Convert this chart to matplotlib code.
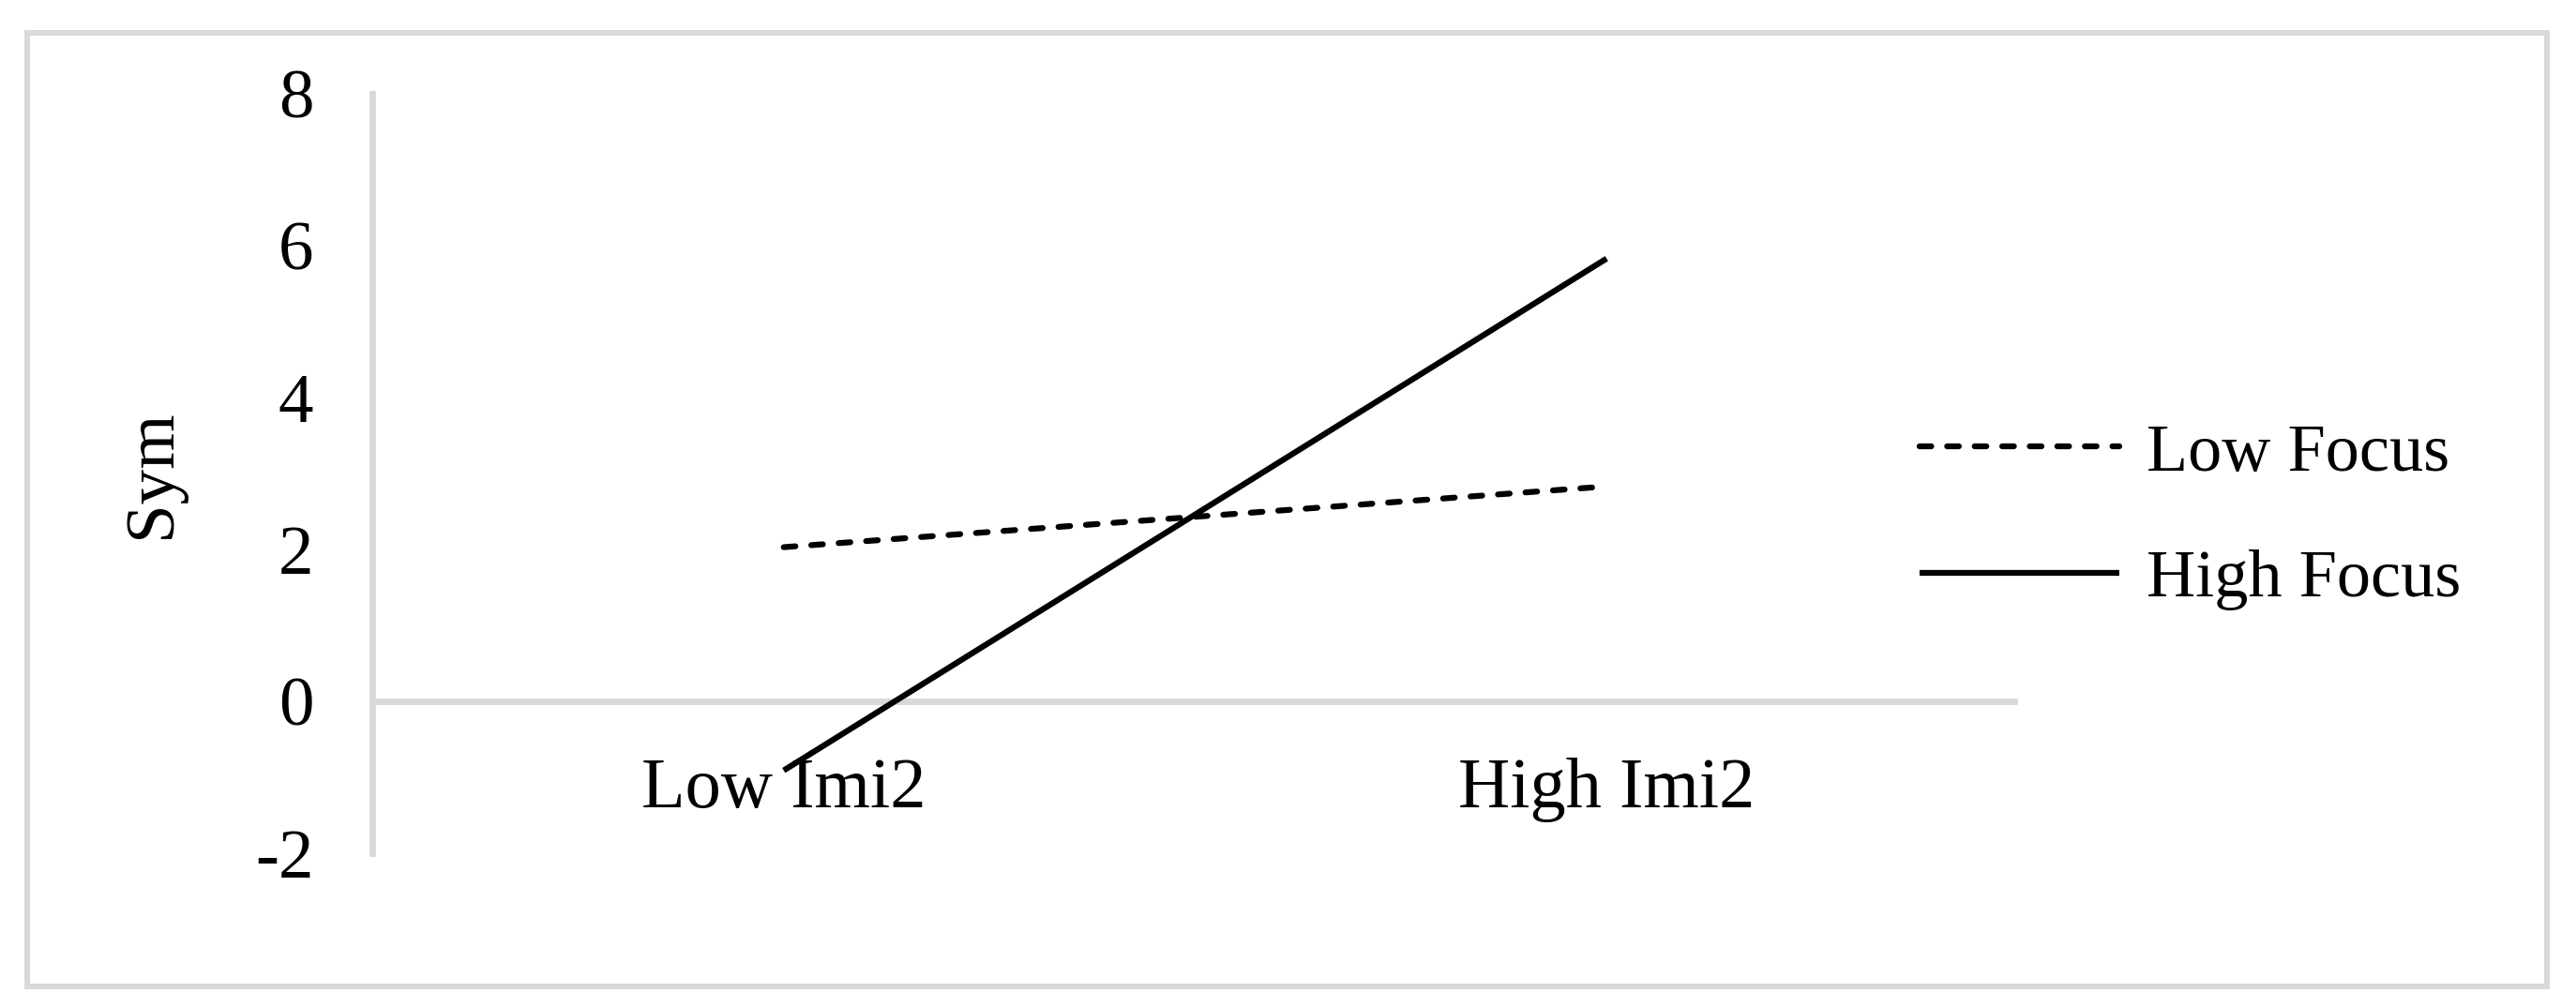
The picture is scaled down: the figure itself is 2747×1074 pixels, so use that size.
import matplotlib
matplotlib.use('Agg')
import matplotlib.pyplot as plt
from matplotlib.patches import Rectangle

# ── Data ─────────────────────────────────────────────────────────────────────
categories = ["Low Imi2", "High Imi2"]
low_focus = [2.03, 2.83]
high_focus = [-0.91, 5.83]
series_names = ["Low Focus", "High Focus"]
y_ticks = [-2, 0, 2, 4, 6, 8]

GRAY = "#d9d9d9"
plt.rcParams.update({
    'font.family': ['Liberation Serif', 'DejaVu Serif'],
})

W, H = 2747, 1074
fig = plt.figure(figsize=(W / 100, H / 100), dpi=100)

# outer chart border
fig.patches.append(Rectangle((28.5 / W, 1 - 1052 / H), (2716 - 28.5) / W, (1052 - 34.5) / H,
                             transform=fig.transFigure, fill=False,
                             edgecolor=GRAY, lw=4.3))

ax = fig.add_axes([397 / W, 1 - 910 / H, (2152 - 397) / W, (910 - 100) / H])
x = list(range(len(categories)))

ax.plot(x, low_focus, color="black", lw=4.5, linestyle=(0, (2.0, 2.7)),
        dash_capstyle="round", label=series_names[0])
ax.plot(x, high_focus, color="black", lw=4.5, solid_capstyle="butt",
        label=series_names[1])

ax.set_xlim(-0.5, 1.5)
ax.set_ylim(-2, 8)
ax.axhline(0, color=GRAY, lw=5, zorder=0)

for s in ["top", "right", "bottom"]:
    ax.spines[s].set_visible(False)
ax.spines["left"].set_color(GRAY)
ax.spines["left"].set_linewidth(5)

ax.set_yticks(y_ticks)
ax.set_yticklabels([str(v) for v in y_ticks])
ax.tick_params(axis="y", length=0, pad=45, labelsize=54)
ax.set_xticks([])

# category labels sit just under the zero line, Excel-style
for i, lab in enumerate(categories):
    ax.text(i, -1.40, lab, ha="center", va="baseline", fontsize=55)

fig.text(163 / W, 1 - 505 / H, "Sym", rotation=90, ha="center", va="center",
         fontsize=54)

leg = ax.legend(loc="center left", bbox_to_anchor=(2047 / W, 1 - 551 / H),
                bbox_transform=fig.transFigure, frameon=False, fontsize=52,
                handlelength=2.95, handletextpad=0.4, labelspacing=0.95,
                borderpad=0, borderaxespad=0)

fig.savefig("out.png", dpi=100)
